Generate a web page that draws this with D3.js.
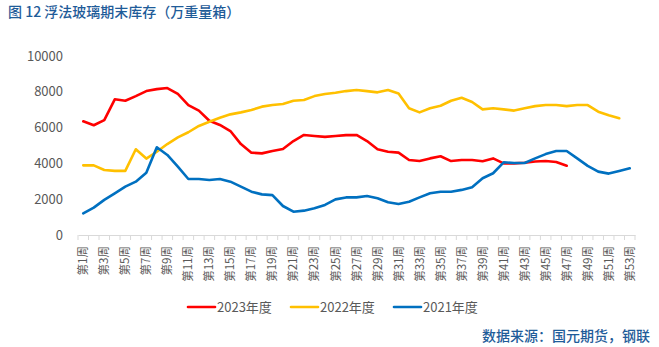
<!DOCTYPE html>
<html>
<head>
<meta charset="utf-8">
<script src="https://cdn.jsdelivr.net/npm/d3@7"></script>
<style>
  body { margin: 0; background: #fff; }
  svg { font-family: "Noto Sans CJK SC", "Noto Sans", sans-serif; }
</style>
</head>
<body>
<div id="chart"></div>
<script>
// weeks 1..53
let weeks = d3.range(1, 54).map(function(i){ return "第" + i + "周"; });

let y2023 = [6350, 6130, 6420, 7580, 7500, 7760, 8040, 8150, 8210, 7880,
             7260, 6950, 6380, 6150, 5810, 5080, 4600, 4560, 4690, 4800,
             5250, 5590, 5530, 5480, 5530, 5580, 5590, 5250, 4790, 4650,
             4600, 4190, 4130, 4280, 4400, 4130, 4190, 4190, 4120, 4280,
             4000, 4000, 4040, 4110, 4130, 4080, 3870];

let y2022 = [3890, 3890, 3630, 3580, 3580, 4790, 4270, 4650, 5080, 5450,
             5740, 6090, 6330, 6550, 6740, 6850, 6980, 7170, 7260, 7320,
             7500, 7540, 7760, 7880, 7950, 8040, 8100, 8040, 7970, 8100,
             7910, 7080, 6850, 7080, 7220, 7500, 7670, 7430, 7020, 7080,
             7020, 6950, 7080, 7200, 7260, 7260, 7200, 7260, 7260, 6890,
             6690, 6520];

let y2021 = [1210, 1530, 1960, 2330, 2700, 2980, 3480, 4900, 4470, 3820,
             3130, 3130, 3070, 3130, 2980, 2700, 2420, 2270, 2230, 1620,
             1300, 1360, 1490, 1680, 1990, 2100, 2100, 2180, 2050, 1830,
             1730, 1860, 2100, 2330, 2420, 2420, 2520, 2670, 3170, 3450,
             4060, 4020, 4020, 4280, 4520, 4690, 4690, 4280, 3860, 3540,
             3430, 3580, 3730];

let yTicks = [0, 2000, 4000, 6000, 8000, 10000];

let series = [
    {name: "2023年度", values: y2023, color: "#FF0000"},
    {name: "2022年度", values: y2022, color: "#FFC000"},
    {name: "2021年度", values: y2021, color: "#0070C0"}
];

let W = 659, H = 347;
let svg = d3.select("#chart").append("svg")
    .attr("width", W)
    .attr("height", H);

// title
svg.append("text")
    .attr("x", 8)
    .attr("y", 17)
    .attr("fill", "#1F5C99")
    .style("font-size", "14px")
    .style("font-weight", 500)
    .text("图 12  浮法玻璃期末库存（万重量箱）");

// scales
let x = d3.scaleBand().domain(weeks).range([78, 635]).padding(0);
let y = d3.scaleLinear().domain([0, 10000]).range([235, 56]);
let cx = function(i){ return x(weeks[i]) + x.bandwidth() / 2; };

// y axis labels (no line)
svg.append("g").selectAll("text")
    .data(yTicks)
    .enter()
    .append("text")
    .attr("x", 63)
    .attr("y", function(d){ return y(d); })
    .attr("dy", "0.35em")
    .attr("text-anchor", "end")
    .attr("fill", "#595959")
    .style("font-size", "13px")
    .text(function(d){ return d; });

// x axis
let xAxis = svg.append("g")
    .attr("transform", "translate(0,235)")
    .call(d3.axisBottom(x).tickSizeInner(5).tickSizeOuter(0).tickFormat(function(d, i){
        return i % 2 == 0 ? d : "";
    }));
xAxis.select(".domain").attr("stroke", "#D9D9D9");
// ticks on band boundaries
xAxis.selectAll(".tick line")
    .attr("stroke", "#D9D9D9")
    .attr("x1", -x.bandwidth() / 2)
    .attr("x2", -x.bandwidth() / 2);
xAxis.append("line")
    .attr("x1", 635).attr("x2", 635)
    .attr("y1", 0).attr("y2", 5)
    .attr("stroke", "#D9D9D9");
xAxis.selectAll(".tick text")
    .attr("fill", "#595959")
    .style("font-size", "11.5px")
    .style("font-family", "\"Noto Sans CJK SC\", sans-serif")
    .attr("text-anchor", "end")
    .attr("transform", "rotate(-90)")
    .attr("x", -11)
    .attr("y", 0)
    .attr("dy", "0.35em");

// lines
let line = d3.line()
    .x(function(d, i){ return cx(i); })
    .y(function(d){ return y(d); });

svg.selectAll(".series")
    .data(series)
    .enter()
    .append("path")
    .attr("class", "series")
    .attr("fill", "none")
    .attr("stroke", function(d){ return d.color; })
    .attr("stroke-width", 2.6)
    .attr("stroke-linejoin", "round")
    .attr("stroke-linecap", "round")
    .attr("d", function(d){ return line(d.values); });

// legend
let legendX = [188, 291, 394];
let legend = svg.selectAll(".legend")
    .data(series)
    .enter()
    .append("g")
    .attr("class", "legend")
    .attr("transform", function(d, i){ return "translate(" + legendX[i] + ",307)"; });
legend.append("line")
    .attr("x1", 0).attr("x2", 27)
    .attr("stroke", function(d){ return d.color; })
    .attr("stroke-width", 2.6)
    .attr("stroke-linecap", "round");
legend.append("text")
    .attr("x", 29)
    .attr("dy", "0.35em")
    .attr("fill", "#595959")
    .style("font-size", "13px")
    .text(function(d){ return d.name; });

// source
svg.append("text")
    .attr("x", 650)
    .attr("y", 336)
    .attr("dy", "0.35em")
    .attr("text-anchor", "end")
    .attr("fill", "#1F5C99")
    .style("font-size", "14px")
    .style("font-weight", 500)
    .text("数据来源：国元期货，钢联");
</script>
</body>
</html>
